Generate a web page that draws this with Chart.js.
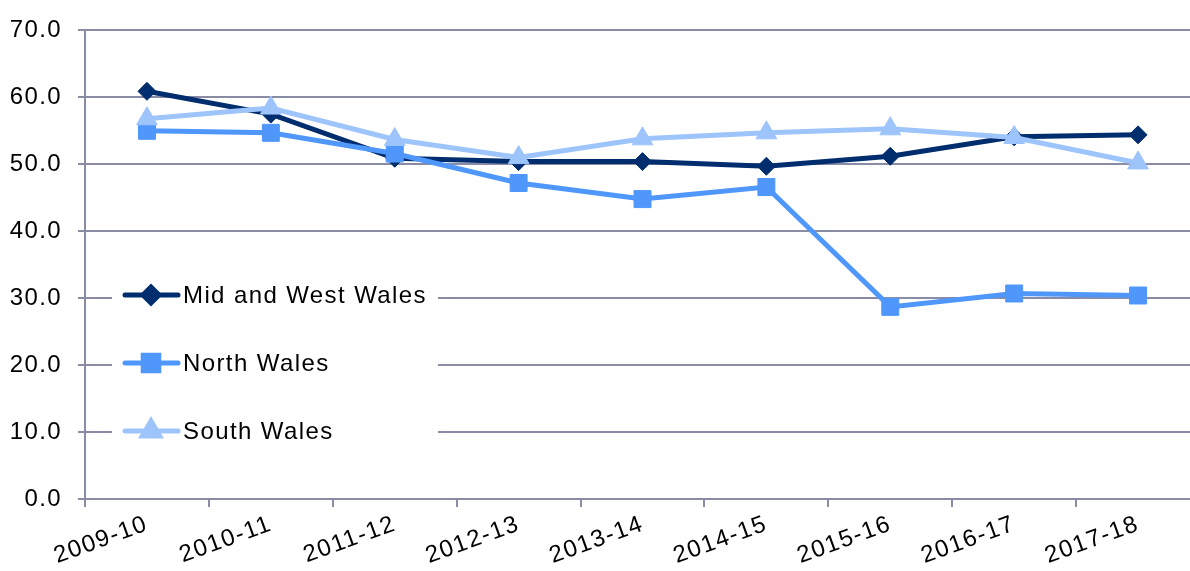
<!DOCTYPE html>
<html>
<head>
<meta charset="utf-8">
<script src="https://cdn.jsdelivr.net/npm/chart.js@4.4.1/dist/chart.umd.min.js"></script>
<style>
  html, body { margin: 0; padding: 0; background: #fff; overflow: hidden; }
</style>
</head>
<body>
<canvas id="chart" width="1213" height="571"></canvas>
<script>
const years = ['2009-10', '2010-11', '2011-12', '2012-13', '2013-14', '2014-15', '2015-16', '2016-17', '2017-18'];
const midWestWales = [60.9, 57.5, 50.9, 50.4, 50.4, 49.7, 51.2, 54.1, 54.4];
const northWales   = [55.0, 54.7, 51.6, 47.2, 44.8, 46.6, 28.7, 30.7, 30.4];
const southWales   = [56.8, 58.4, 53.7, 51.0, 53.8, 54.7, 55.3, 54.0, 50.2];
const seriesNames  = ['Mid and West Wales', 'North Wales', 'South Wales'];

const gridColor = '#8a8ca6';
const font = { family: "'Liberation Sans', Arial, sans-serif", size: 24 };
const spacing = '1.4px';

// letter spacing so text widths match the reference
const spacingPlugin = {
  id: 'spacing',
  beforeUpdate(chart) { chart.ctx.letterSpacing = spacing; },
  beforeDraw(chart) { chart.ctx.letterSpacing = spacing; },
};

// legend sits inside the plot area on a white box
const insideLegend = {
  id: 'insideLegend',
  beforeDatasetsDraw(chart) {
    const ctx = chart.ctx;
    ctx.save();
    ctx.fillStyle = '#fff';
    ctx.fillRect(112, 262, 326, 200);
    chart.data.datasets.forEach((ds, i) => {
      const y = 295 + i * 68;
      ctx.strokeStyle = ds.borderColor;
      ctx.lineWidth = 5;
      ctx.lineCap = 'round';
      ctx.beginPath();
      ctx.moveTo(125, y);
      ctx.lineTo(178, y);
      ctx.stroke();
      ctx.fillStyle = ds.borderColor;
      Chart.helpers.drawPoint(ctx, {
        pointStyle: ds.pointStyle,
        radius: ds.legendRadius,
        rotation: 0,
        borderWidth: 1,
      }, 151, y);
      ctx.fillStyle = '#000';
      ctx.font = font.size + 'px ' + font.family;
      ctx.textBaseline = 'middle';
      ctx.textAlign = 'left';
      ctx.fillText(ds.label, 183, y + 1);
    });
    ctx.restore();
  },
};

function series(label, data, color, style, radius, legendRadius, order) {
  return {
    label, data, order,
    borderColor: color,
    backgroundColor: color,
    borderWidth: 5,
    pointStyle: style,
    pointRadius: radius,
    pointHoverRadius: radius,
    pointBorderWidth: 1,
    legendRadius,
    tension: 0,
  };
}

new Chart(document.getElementById('chart'), {
  type: 'line',
  data: {
    labels: years,
    datasets: [
      series(seriesNames[0], midWestWales, '#002d6e', 'rectRot', 9, 8, 3),
      series(seriesNames[1], northWales, '#4f97fb', 'rect', 12, 11, 2),
      series(seriesNames[2], southWales, '#9ec4fc', 'triangle', 12, 10, 1),
    ],
  },
  options: {
    responsive: false,
    animation: false,
    layout: { padding: { top: 24, left: 0, right: 0, bottom: 0 } },
    plugins: { legend: { display: false }, tooltip: { enabled: false } },
    scales: {
      x: {
        offset: true,
        grid: { offset: true, drawOnChartArea: false, color: gridColor, lineWidth: 2, tickLength: 8 },
        border: { color: gridColor, width: 2 },
        ticks: { color: '#000', font, minRotation: 20, maxRotation: 20, autoSkip: false, padding: 3 },
        afterFit(s) { s.height = 72; },
      },
      y: {
        min: 0,
        max: 70,
        grid: { color: gridColor, lineWidth: 2, tickLength: 7 },
        border: { color: gridColor, width: 2 },
        ticks: { stepSize: 10, color: '#000', font, padding: 16, callback: v => v.toFixed(1) },
        afterFit(s) { s.width = 85; },
      },
    },
  },
  plugins: [spacingPlugin, insideLegend],
});
</script>
</body>
</html>
